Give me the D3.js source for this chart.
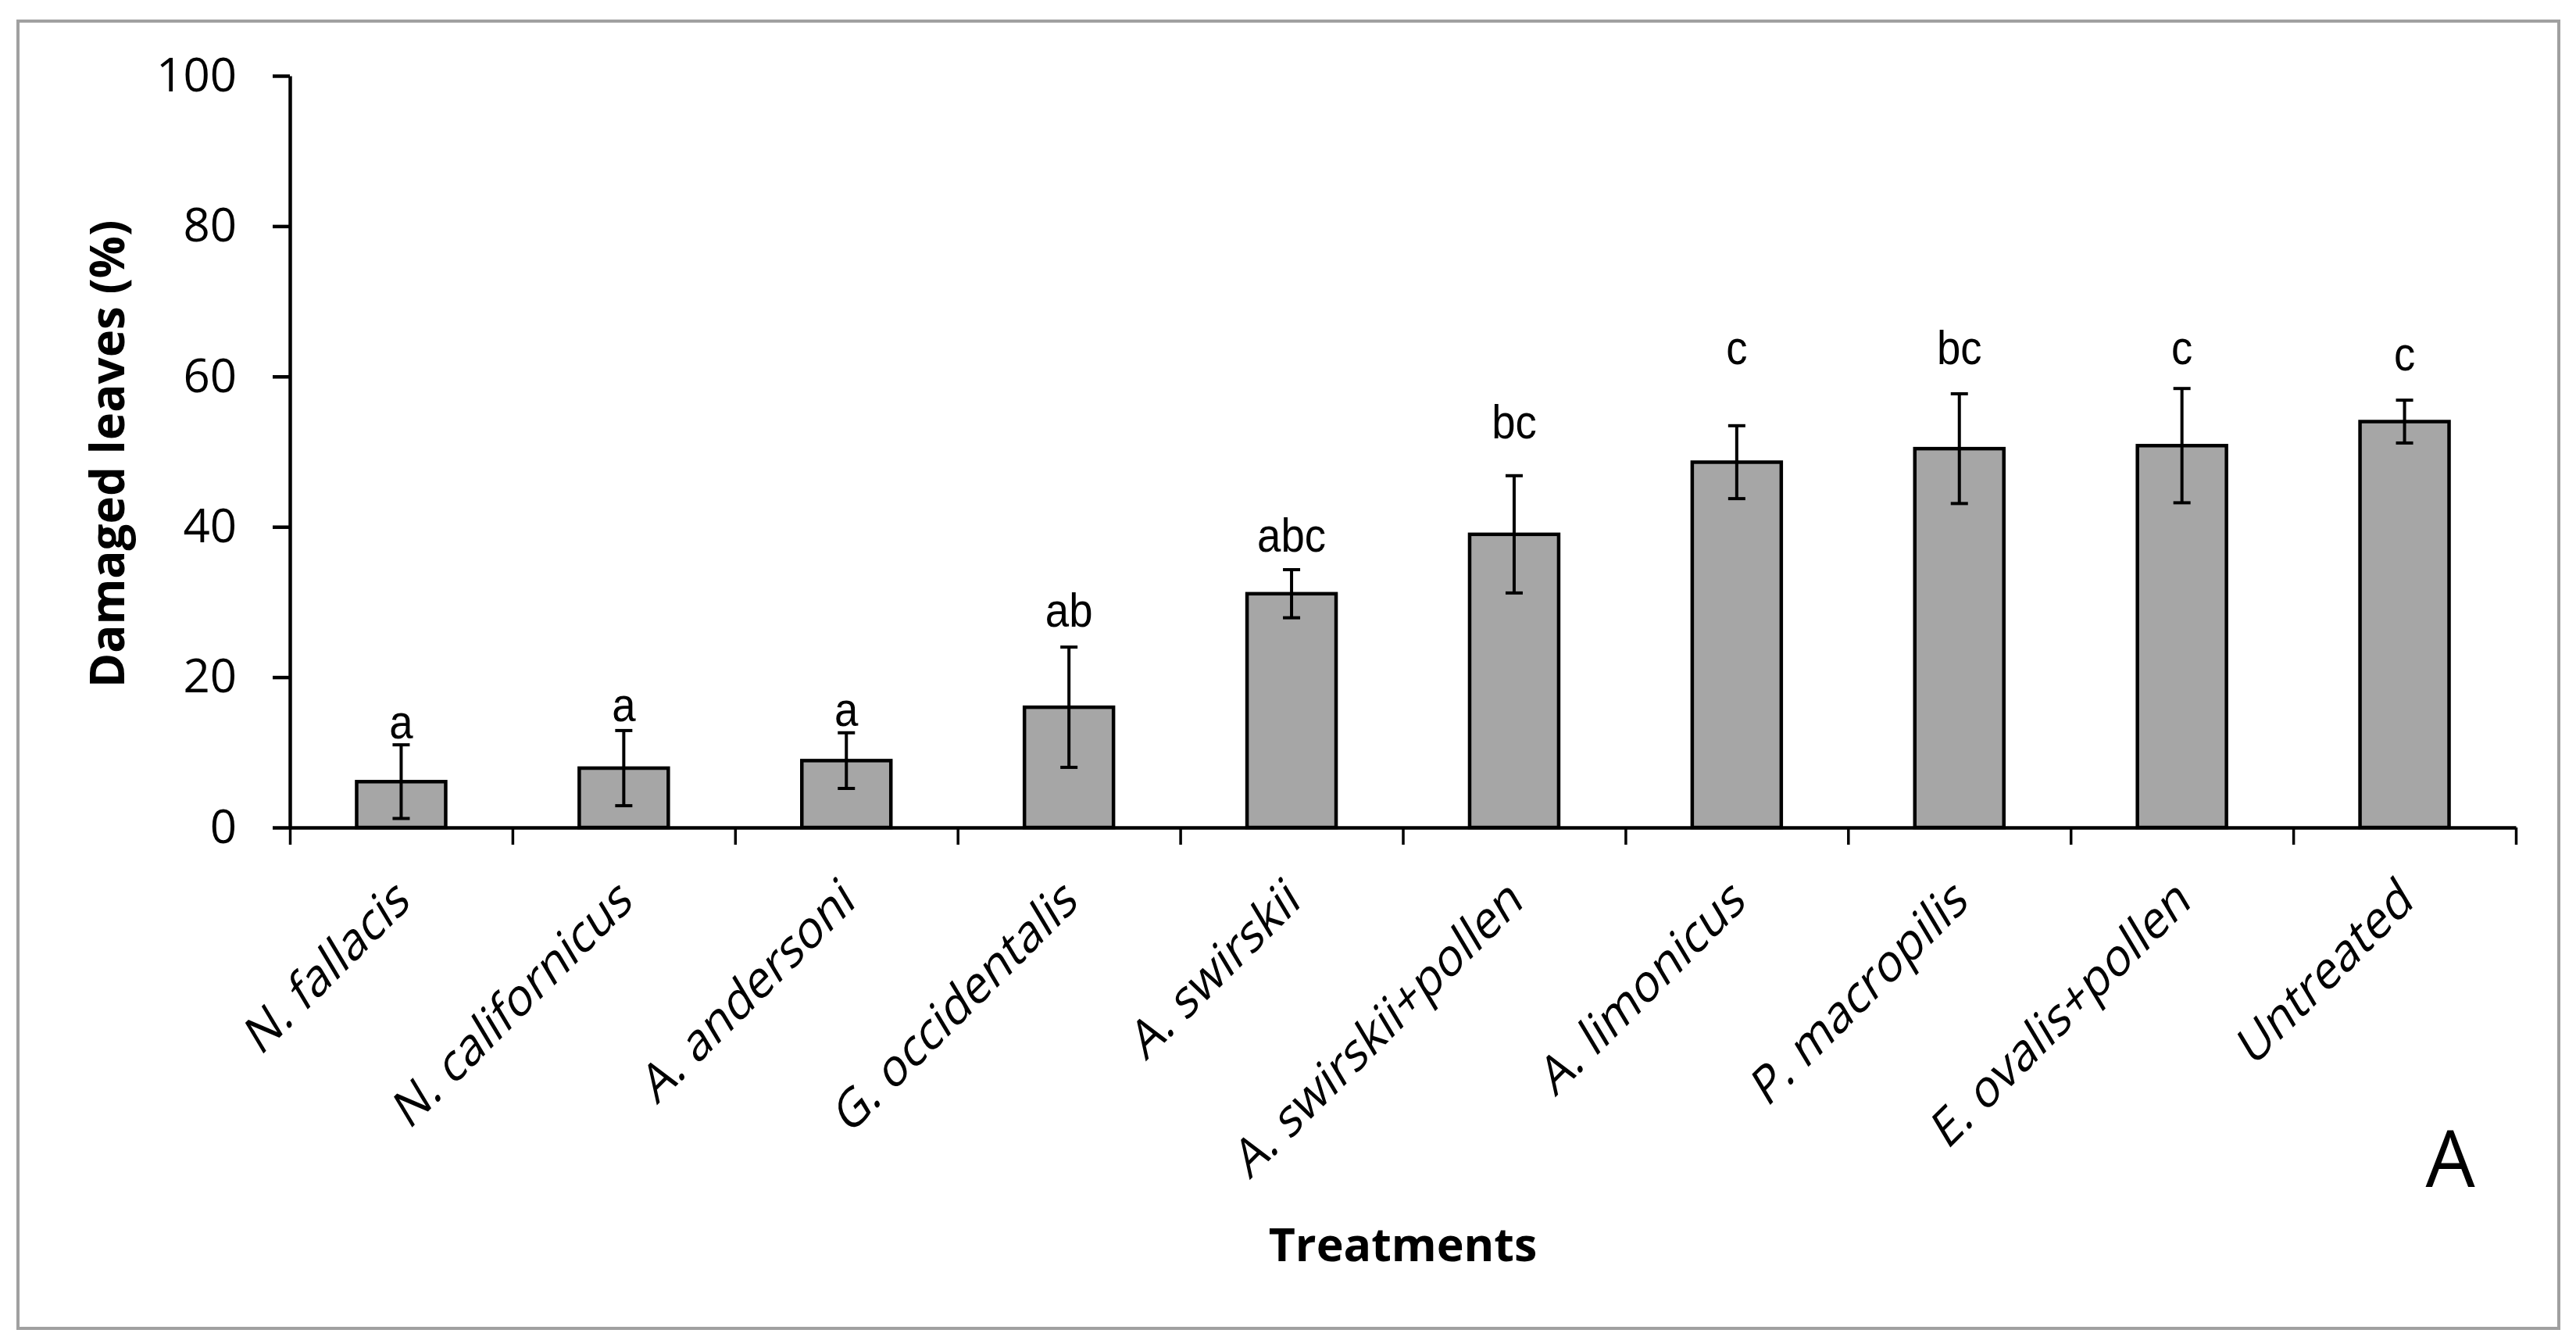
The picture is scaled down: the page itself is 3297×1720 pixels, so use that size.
<!DOCTYPE html>
<html>
<head>
<meta charset="utf-8">
<script src="https://cdn.jsdelivr.net/npm/d3@7"></script>
<style>
  html, body { margin: 0; padding: 0; background: #fff; }
  svg { display: block; }
</style>
</head>
<body>
<script>
// ---- data ----
const categories = ["N. fallacis", "N. californicus", "A. andersoni", "G. occidentalis", "A. swirskii",
  "A. swirskii+pollen", "A. limonicus", "P. macropilis", "E. ovalis+pollen", "Untreated"];
const meanValues = [6.1, 7.9, 8.9, 16.0, 31.1, 39.0, 48.6, 50.4, 50.8, 54.0];
const seValues   = [4.9, 5.0, 3.7, 8.0, 3.2, 7.8, 4.85, 7.3, 7.6, 2.85];
const letters    = ["a", "a", "a", "ab", "abc", "bc", "c", "bc", "c", "c"];
const letterLevel = [11.85, 14.1, 13.5, 26.7, 36.7, 51.8, 61.6, 61.6, 61.6, 60.8];
const yTicks = [0, 20, 40, 60, 80, 100];
const yTitle = "Damaged leaves (%)";
const xTitle = "Treatments";
const panelLabel = "A";

// ---- layout ----
const W = 3297, H = 1720;
const mLeft = 371, mRight = 3220, mTop = 97, mBottom = 1059;

const svg = d3.select("body").append("svg").attr("width", W).attr("height", H);

svg.append("rect").attr("x", 23).attr("y", 27).attr("width", 3252).attr("height", 1673)
  .attr("fill", "#fff").attr("stroke", "#a0a0a0").attr("stroke-width", 4);

const x = d3.scaleBand().domain(categories).range([mLeft, mRight]).paddingInner(0.6).paddingOuter(0.3);
const y = d3.scaleLinear().domain([0, 100]).range([mBottom, mTop]);
const xb = d3.scaleLinear().domain([0, categories.length]).range([mLeft, mRight]);

const mainFont = "'Open Sans', 'Noto Sans', sans-serif";

// bars
svg.append("g").selectAll("rect").data(categories).join("rect")
  .attr("x", d => x(d))
  .attr("y", (d, i) => y(meanValues[i]))
  .attr("width", x.bandwidth())
  .attr("height", (d, i) => y(0) - y(meanValues[i]))
  .attr("fill", "#a6a6a6").attr("stroke", "#000").attr("stroke-width", 4.5);

// error bars
const eb = svg.append("g").attr("stroke", "#000").attr("stroke-width", 4);
categories.forEach((c, i) => {
  const cx = x(c) + x.bandwidth() / 2;
  const hi = y(meanValues[i] + seValues[i]), lo = y(meanValues[i] - seValues[i]);
  eb.append("line").attr("x1", cx).attr("x2", cx).attr("y1", hi).attr("y2", lo);
  eb.append("line").attr("x1", cx - 11).attr("x2", cx + 11).attr("y1", hi).attr("y2", hi);
  eb.append("line").attr("x1", cx - 11).attr("x2", cx + 11).attr("y1", lo).attr("y2", lo);
});

// letters
svg.append("g").selectAll("text").data(categories).join("text")
  .attr("transform", (d, i) => `translate(${x(d) + x.bandwidth() / 2},${y(letterLevel[i])}) scale(0.88,1)`)
  .attr("text-anchor", "middle")
  .attr("font-family", "'Liberation Sans Narrow', 'Liberation Sans', Arial, sans-serif")
  .attr("font-size", 62)
  .attr("fill", "#000")
  .text((d, i) => letters[i]);

// y axis
const yAxis = svg.append("g").attr("transform", `translate(${mLeft},0)`)
  .call(d3.axisLeft(y).tickValues(yTicks).tickSize(22).tickPadding(46).tickSizeOuter(0));
yAxis.select(".domain").attr("stroke", "#000").attr("stroke-width", 4.5);
yAxis.selectAll(".tick line").attr("stroke", "#000").attr("stroke-width", 4.5);
yAxis.selectAll(".tick text").attr("font-family", mainFont).attr("font-size", 60).attr("fill", "#000");

// x axis (boundary ticks)
const xAxis = svg.append("g").attr("transform", `translate(0,${mBottom})`)
  .call(d3.axisBottom(xb).tickValues(d3.range(0, categories.length + 1)).tickSize(22).tickFormat("").tickSizeOuter(0));
xAxis.select(".domain").attr("stroke", "#000").attr("stroke-width", 4.5);
xAxis.selectAll(".tick line").attr("stroke", "#000").attr("stroke-width", 3.5);

// category labels (rotated, slightly sheared like the original)
svg.append("g").selectAll("text").data(categories).join("text")
  .attr("transform", d => `translate(${x(d) + x.bandwidth() / 2 + 14},${mBottom + 99}) rotate(-45) skewX(-14)`)
  .attr("text-anchor", "end")
  .attr("font-family", mainFont)
  .attr("font-size", 62)
  .attr("fill", "#000")
  .text(d => d);

// axis titles
svg.append("text")
  .attr("transform", `translate(159,${(mTop + mBottom) / 2 + 3}) rotate(-90)`)
  .attr("text-anchor", "middle")
  .attr("font-family", mainFont).attr("font-weight", "bold").attr("font-size", 60)
  .attr("fill", "#000")
  .text(yTitle);

svg.append("text")
  .attr("x", (mLeft + mRight) / 2).attr("y", 1614)
  .attr("text-anchor", "middle")
  .attr("font-family", mainFont).attr("font-weight", "bold").attr("font-size", 59)
  .attr("fill", "#000")
  .text(xTitle);

svg.append("text")
  .attr("x", 3136).attr("y", 1519)
  .attr("text-anchor", "middle")
  .attr("font-family", mainFont).attr("font-size", 100)
  .attr("fill", "#000")
  .text(panelLabel);
</script>
</body>
</html>
